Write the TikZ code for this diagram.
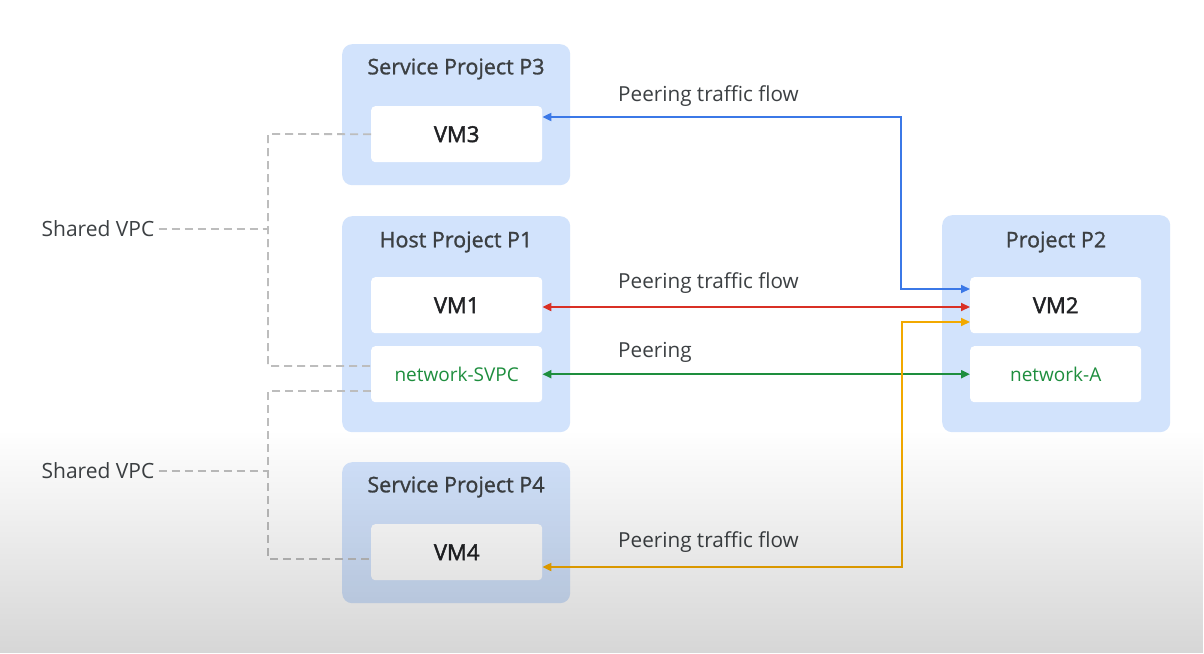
\documentclass[tikz,border=0pt]{standalone}
\usepackage{fontspec}
\setmainfont{Open Sans}
\newfontfamily\medfont[FakeBold=1.2]{Open Sans}
\newfontfamily\vmfont[FakeBold=2]{Open Sans}
\usetikzlibrary{arrows.meta,fadings,calc}
\definecolor{boxblue}{HTML}{D2E3FC}
\definecolor{txtgray}{HTML}{3C4043}
\definecolor{vmtext}{HTML}{202124}
\definecolor{netgreen}{HTML}{1E8E3E}
\definecolor{gblue}{HTML}{3B78E7}
\definecolor{gred}{HTML}{D93025}
\definecolor{ggreen}{HTML}{1E8E3E}
\definecolor{gyellow}{HTML}{F2A900}
\definecolor{dashgray}{HTML}{BDBDBD}
\tikzfading[name=fadedown, top color=transparent!100, bottom color=transparent!84]
\tikzset{
  outerbox/.style={fill=boxblue, draw=none, rounded corners=10pt, minimum width=228pt, anchor=north west, inner sep=0pt},
  innerbox/.style={fill=white, draw=none, rounded corners=4pt, minimum width=171pt, minimum height=56pt, anchor=north west, inner sep=0pt, text=vmtext, font=\vmfont\fontsize{22}{26}\selectfont},
  netbox/.style={innerbox, text=netgreen, font=\fontsize{19}{22}\selectfont},
  titletext/.style={text=txtgray, font=\medfont\fontsize{21.5}{25}\selectfont, inner sep=0pt},
  flowlabel/.style={text=txtgray, font=\fontsize{20.7}{24}\selectfont, anchor=west, inner sep=0pt},
  sharedlabel/.style={text=txtgray, font=\fontsize{21}{24}\selectfont, inner sep=4pt},
  conn/.style={line width=2pt, {Triangle[length=9pt,width=8pt]}-{Triangle[length=9pt,width=8pt]}},
  dashline/.style={draw=dashgray, line width=1.8pt, dash pattern=on 8pt off 5pt}
}
\begin{document}
\begin{tikzpicture}[x=1pt,y=1pt]
\useasboundingbox (0,0) rectangle (1204,-653);
\fill[white] (0,0) rectangle (1204,-653);
% outer boxes
\node[outerbox, minimum height=141pt] (p3) at (342,-44) {};
\node[outerbox, minimum height=216pt] (p1) at (342,-216) {};
\node[outerbox, minimum height=141pt] (p4) at (342,-462) {};
\node[outerbox, minimum height=217pt] (p2) at (942,-215) {};
% titles
\node[titletext] (t3) at (456,-69) {Service Project P3};
\node[titletext] (t1) at (456,-242) {Host Project P1};
\node[titletext] (t4) at (456,-487) {Service Project P4};
\node[titletext] (t2) at (1056,-242) {Project P2};
% inner boxes
\node[innerbox] (vm3) at (371,-106) {VM3};
\node[innerbox] (vm1) at (371,-277) {VM1};
\node[netbox] (svpc) at (371,-346) {network-SVPC};
\node[innerbox] (vm4) at (371,-524) {VM4};
\node[innerbox] (vm2) at (970,-277) {VM2};
\node[netbox] (neta) at (970,-346) {network-A};
% flow labels
\node[flowlabel] (l3) at (618,-96) {Peering traffic flow};
\node[flowlabel] (l1) at (618,-283) {Peering traffic flow};
\node[flowlabel] (lp) at (618,-352) {Peering};
\node[flowlabel] (l4) at (618,-542) {Peering traffic flow};
% connectors
\coordinate (bturn) at (901,-289);
\coordinate (yturn) at (902,-322);
\draw[conn, gblue] (vm3.east |- 0,-117) -| (bturn) -- (vm2.west |- bturn);
\draw[conn, gred] (vm1.east |- 0,-307) -- (vm2.west |- 0,-307);
\draw[conn, ggreen] (svpc.east) -- (neta.west);
\draw[conn, gyellow] (vm4.east |- 0,-567) -| (yturn) -- (vm2.west |- yturn);
% shared VPC
\node[sharedlabel] (sv1) at (98,-229) {Shared VPC};
\node[sharedlabel] (sv2) at (98,-471) {Shared VPC};
\coordinate (j1) at (268,-229);
\coordinate (j2) at (268,-471);
\draw[dashline] (sv1.east) -- (j1);
\draw[dashline] (sv2.east) -- (j2);
\draw[dashline] (vm3.west) -- (268,-134) -- (268,-366) -- (svpc.west |- 0,-366);
\draw[dashline] (svpc.west |- 0,-391) -- (268,-391) -- (268,-559) -- (vm4.west |- 0,-559);
% bottom overlay gradient
\fill[black, path fading=fadedown] (0,-430) rectangle (1204,-653);
\end{tikzpicture}
\end{document}
